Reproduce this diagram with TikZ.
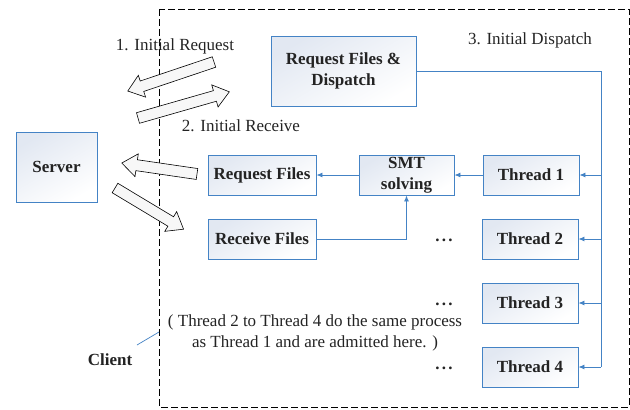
\documentclass[tikz,border=0pt]{standalone}
\usepackage{fontspec}
\setmainfont{Liberation Serif}
\usetikzlibrary{arrows.meta}
\definecolor{lineblue}{RGB}{68,131,197}
\definecolor{boxtop}{RGB}{226,232,242}
\definecolor{txt}{RGB}{35,35,35}
\begin{document}
\begin{tikzpicture}[x=1pt,y=-1pt,
  font=\fontsize{17}{21}\selectfont, text=txt,
  box/.style={draw=lineblue, line width=0.9pt, top color=boxtop, bottom color=white,
    shading angle=30, align=center, font=\fontsize{17}{21}\selectfont\bfseries, inner sep=0pt},
  conn/.style={draw=lineblue, line width=0.9pt},
  arr/.style={conn, -{Latex[length=6pt,width=5pt]}},
  dots/.style={anchor=base, font=\fontsize{17}{21}\selectfont\bfseries, inner sep=0pt},
  barrow/.pic={
    \draw[line width=0.6pt, fill=gray!6]
      (0,-5.5) -- (#1-15,-5.5) -- (#1-15,-11.5) -- (#1,0) -- (#1-15,11.5) -- (#1-15,5.5) -- (0,5.5) -- cycle;
  }]
\useasboundingbox (0,0) rectangle (630,410);
% client region
\draw[line width=0.8pt, dash pattern=on 7pt off 3pt] (159,9) rectangle (629,407);

% boxes
\node[box, minimum width=145pt, minimum height=70pt] (rd) at (343.5,71) {Request Files \&\\Dispatch};
\node[box, minimum width=81pt, minimum height=70pt] (server) at (56.5,167) {Server};
\node[box, minimum width=108pt, minimum height=40pt] (reqf) at (262,175) {Request Files};
\node[box, minimum width=108pt, minimum height=40pt] (recf) at (262,239) {Receive Files};
\node[box, minimum width=95pt, minimum height=40pt] (smt) at (406.5,175) {SMT\\solving};
\node[box, minimum width=96pt, minimum height=40pt] (th1) at (531,175) {Thread 1};
\node[box, minimum width=96pt, minimum height=40pt] (th2) at (530,239) {Thread 2};
\node[box, minimum width=96pt, minimum height=40pt] (th3) at (530,303) {Thread 3};
\node[box, minimum width=96pt, minimum height=40pt] (th4) at (530,367) {Thread 4};

% dispatch bus
\coordinate (b1) at (601,175);
\coordinate (b2) at (601,239);
\coordinate (b3) at (601,303);
\coordinate (b4) at (601,367);
\draw[conn] (rd.east) -| (b4);
\draw[arr] (b1) -- (th1.east);
\draw[arr] (b2) -- (th2.east);
\draw[arr] (b3) -- (th3.east);
\draw[arr] (b4) -- (th4.east);

\draw[arr] (th1.west) -- (smt.east);
\draw[arr] (smt.west) -- (reqf.east);
\draw[arr] (recf.east) -| (smt.south);

% dots
\node[dots] (d2) at (444,241) {.\hspace{2.2pt}.\hspace{2.2pt}.};
\node[dots] (d3) at (444,305) {.\hspace{2.2pt}.\hspace{2.2pt}.};
\node[dots] (d4) at (444,369) {.\hspace{2.2pt}.\hspace{2.2pt}.};

% labels
\node (l1) at (175,46) {1. Initial Request};
\node (l2) at (241,126) {2. Initial Receive};
\node (l3) at (530,40) {3. Initial Dispatch};
\node[align=center] (note) at (315,333) {( Thread 2 to Thread 4 do the same process\\as Thread 1 and are admitted here. )};
\node[font=\fontsize{17}{21}\selectfont\bfseries] (client) at (110,360) {Client};
\coordinate (cs) at (137,345);
\coordinate (ce) at (159,332);
\draw[conn, line width=0.7pt] (cs) -- (ce);

% block arrows
\pic[rotate=198.6] at (214,62) {barrow=91};
\pic[rotate=16] at (138,118) {barrow=95};
\pic[rotate=171.7] at (197,174) {barrow=76};
\pic[rotate=-31] at (115,188) {barrow=80};
\end{tikzpicture}
\end{document}
